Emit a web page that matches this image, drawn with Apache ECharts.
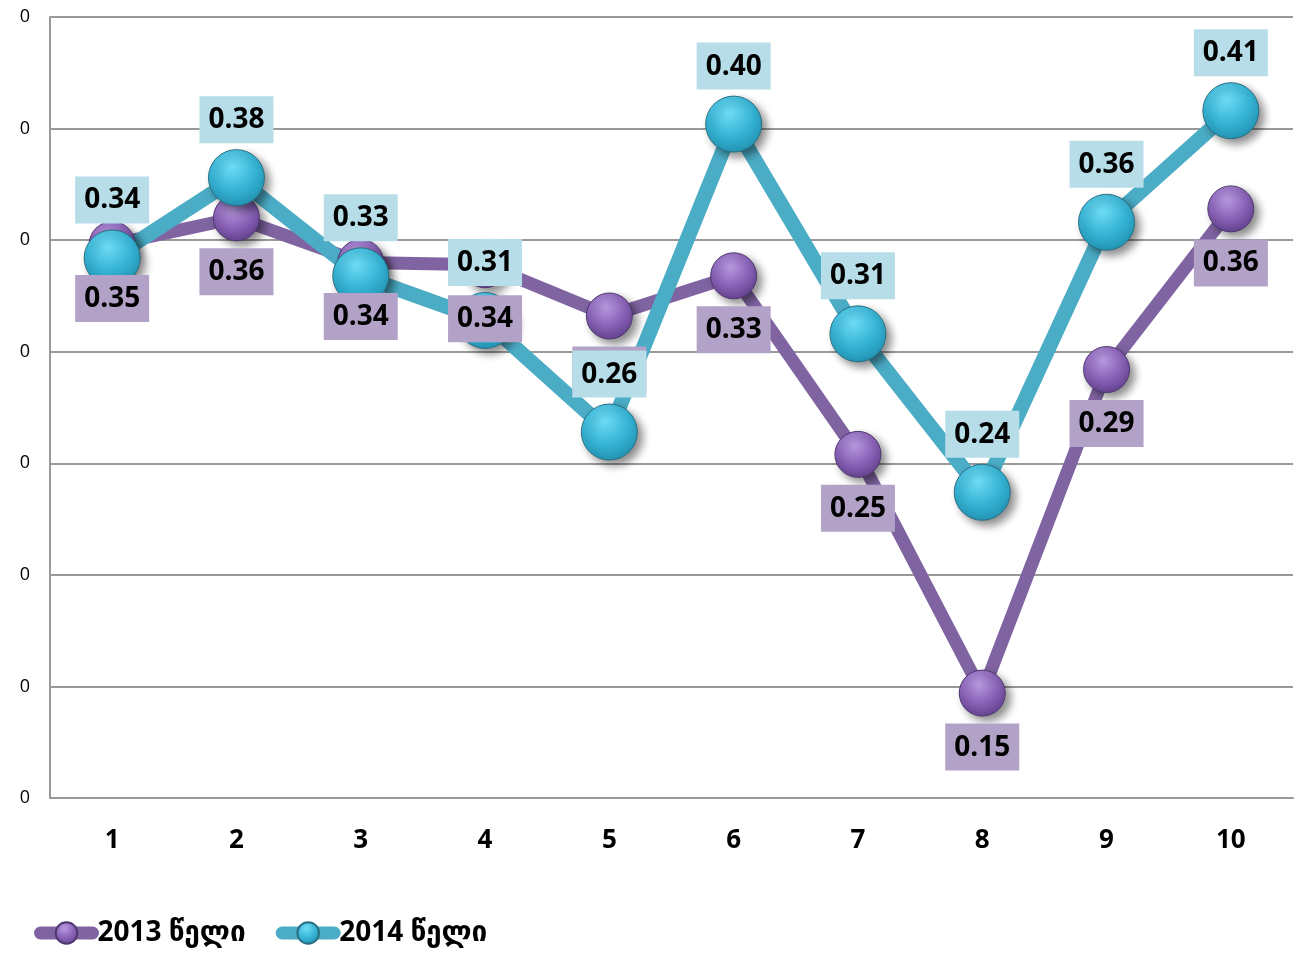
<!DOCTYPE html>
<html>
	<head>
		<meta charset="UTF-8">
		<title></title>
		<script type="text/javascript" src="https://cdn.jsdelivr.net/npm/echarts@6/dist/echarts.min.js"></script>
		<style>
			html, body { margin: 0; padding: 0; background: #fff; }
			#main { width: 1296px; height: 953px; }
		</style>
	</head>
	<body>
		<div id="main"></div>
		<script>
			// 数据
			var categories = ['1', '2', '3', '4', '5', '6', '7', '8', '9', '10'];
			var seriesNames = ['2013 წელი', '2014 წელი'];
			var values2013 = [0.348, 0.360, 0.340, 0.339, 0.316, 0.334, 0.254, 0.147, 0.292, 0.364];
			var values2014 = [0.342, 0.378, 0.334, 0.314, 0.264, 0.402, 0.308, 0.237, 0.358, 0.408];

			var font = '"Open Sans", "DejaVu Sans", sans-serif';

			function ball(light, mid, dark) {
				return {
					type: 'radial', x: 0.42, y: 0.3, r: 0.75,
					colorStops: [
						{ offset: 0, color: light },
						{ offset: 0.55, color: mid },
						{ offset: 1, color: dark }
					]
				};
			}

			var chart = echarts.init(document.getElementById('main'));

			var option = {
				animation: false,
				grid: { left: 50, right: 3, top: 17, bottom: 155 },
				legend: {
					left: 34,
					top: 919,
					padding: 0,
					itemWidth: 52,
					itemHeight: 27,
					itemGap: 30,
					lineStyle: { width: 13, cap: 'round' },
					textStyle: { fontFamily: font, fontSize: 28, fontWeight: 'bold', color: '#000' },
					data: seriesNames
				},
				xAxis: {
					type: 'category',
					data: categories,
					axisLine: { lineStyle: { color: '#999', width: 2 } },
					axisTick: { show: false },
					axisLabel: { fontFamily: font, fontSize: 26, fontWeight: 'bold', color: '#000', margin: 30 }
				},
				yAxis: {
					type: 'value',
					min: 0.1,
					max: 0.45,
					interval: 0.05,
					axisLine: { show: true, lineStyle: { color: '#999', width: 2 } },
					axisTick: { show: false },
					splitLine: { lineStyle: { color: '#999', width: 2 } },
					axisLabel: {
						fontFamily: font, fontSize: 18, color: '#000', margin: 20,
						formatter: function (v) { return Math.round(v).toString(); }
					}
				},
				series: [{
					name: seriesNames[0],
					type: 'line',
					data: values2013,
					symbol: 'circle',
					symbolSize: 46,
					lineStyle: { color: '#8064a2', width: 13 },
					itemStyle: {
						color: ball('#b89ae0', '#8a62b8', '#5f3f8a'),
						borderColor: '#4e3870',
						borderWidth: 1,
						shadowColor: 'rgba(0,0,0,0.45)',
						shadowBlur: 8,
						shadowOffsetX: 5,
						shadowOffsetY: 5
					},
					label: {
						show: true,
						position: 'bottom',
						distance: 7,
						formatter: function (p) { return p.value.toFixed(2); },
						fontFamily: font, fontSize: 28, fontWeight: 'bold', color: '#000',
						lineHeight: 30,
						backgroundColor: '#b3a2c7',
						padding: [9, 9, 8, 9]
					}
				}, {
					name: seriesNames[1],
					type: 'line',
					data: values2014,
					symbol: 'circle',
					symbolSize: 56,
					lineStyle: { color: '#4bacc6', width: 15 },
					itemStyle: {
						color: ball('#6fdcf5', '#36b4d6', '#2190b0'),
						borderColor: '#2a6f82',
						borderWidth: 1,
						shadowColor: 'rgba(0,0,0,0.45)',
						shadowBlur: 8,
						shadowOffsetX: 5,
						shadowOffsetY: 5
					},
					label: {
						show: true,
						position: 'top',
						distance: 6,
						formatter: function (p) { return p.value.toFixed(2); },
						fontFamily: font, fontSize: 28, fontWeight: 'bold', color: '#000',
						lineHeight: 30,
						backgroundColor: '#b7dee8',
						padding: [9, 9, 8, 9]
					}
				}]
			};

			chart.setOption(option);
		</script>
	</body>
</html>
